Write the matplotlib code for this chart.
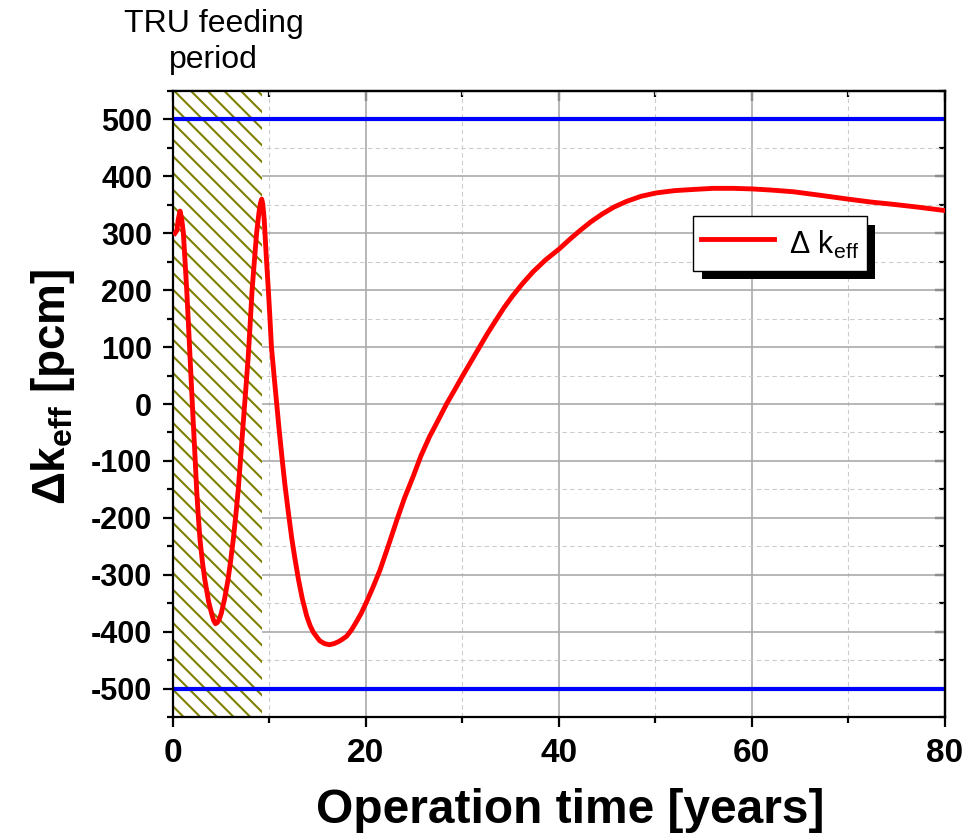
import matplotlib
matplotlib.use("Agg")
import matplotlib.pyplot as plt
import matplotlib.patheffects as pe
from matplotlib.ticker import MultipleLocator

plt.rcParams['font.family'] = ['Liberation Sans', 'DejaVu Sans']
plt.rcParams['mathtext.fontset'] = 'custom'
plt.rcParams['mathtext.rm'] = 'Liberation Sans'
plt.rcParams['mathtext.bf'] = 'Liberation Sans:bold'
plt.rcParams['mathtext.it'] = 'Liberation Sans:italic'
plt.rcParams['hatch.linewidth'] = 1.5
plt.rcParams['axes.unicode_minus'] = False

# data
time_years = [0.2, 0.4, 0.55, 0.73, 0.9, 1.07, 1.25, 1.42, 1.6, 1.76, 1.93, 2.1, 2.28,
              2.45, 2.62, 2.8, 3.05, 3.3, 3.7, 4.0, 4.2, 4.4, 4.6, 4.8, 5.0, 5.35,
              5.7, 5.97, 6.24, 6.5, 6.76, 7.02, 7.28, 7.54, 7.8, 8.0, 8.2, 8.45,
              8.67, 8.9, 9.05, 9.19, 9.3, 9.45, 9.53, 9.7, 9.88, 10.05, 10.2, 10.5,
              10.75, 11.0, 11.3, 11.6, 11.95, 12.3, 12.64, 13.0, 13.4, 13.85, 14.2,
              14.54, 15.2, 15.7, 16.2, 16.7, 17.1, 17.5, 18.0, 18.5, 19.0, 19.5, 20.0,
              20.7, 21.45, 22.3, 23.2, 24.0, 24.9, 25.7, 26.6, 27.5, 28.35, 29.2, 30.0,
              30.9, 31.8, 32.6, 33.5, 34.3, 35.2, 36.2, 37.3, 38.6, 40.0, 41.1, 42.2,
              43.3, 44.5, 45.7, 47.0, 48.5, 50.1, 52.0, 53.9, 56.0, 58.1, 60.0, 62.0,
              64.3, 67.0, 70.0, 72.3, 74.6, 77.2, 80.0]
dk_eff = [300, 305, 325, 339, 325, 301, 250, 201, 140, 84, 25, -33, -92,
          -151, -197, -239, -278, -309, -348, -368, -380, -386, -384, -378, -368, -342,
          -309, -276, -239, -197, -151, -92, -33, 25, 84, 142, 201, 255,
          301, 335, 352, 360, 352, 325, 301, 250, 201, 150, 101, 45,
          0, -45, -95, -142, -190, -235, -272, -308, -342, -372, -389,
          -401, -416, -421, -423, -421, -418, -414, -408, -397, -383, -368, -350,
          -323, -292, -250, -204, -165, -127, -91, -57, -28, 0, 25, 49,
          75, 101, 124, 148, 169, 190, 211, 232, 253, 272, 289, 305,
          320, 334, 346, 356, 365, 371, 375, 377, 379, 379, 378, 376,
          373, 367, 360, 355, 351, 346, 340]
limits = [500, -500]
feeding_end = 9.2

fig = plt.figure(figsize=(9.72, 8.39), dpi=100)
ax = fig.add_axes([0.178, 0.1454, 0.794, 0.7461])

ax.set_xlim(0, 80)
ax.set_ylim(-550, 550)
ax.set_axisbelow(True)

# TRU feeding period hatch
ax.axvspan(0, feeding_end, facecolor='white', edgecolor='#808000', linewidth=0,
           hatch='\\\\', zorder=1)

for lim in limits:
    ax.axhline(lim, color='#0000ff', linewidth=3, zorder=2)

ax.plot(time_years, dk_eff, color='#ff0000', linewidth=3.5, label='Δ k$_{\\mathrm{eff}}$',
        zorder=3, solid_joinstyle='round')

ax.xaxis.set_major_locator(MultipleLocator(20))
ax.xaxis.set_minor_locator(MultipleLocator(10))
ax.yaxis.set_major_locator(MultipleLocator(100))
ax.yaxis.set_minor_locator(MultipleLocator(50))

ax.grid(which='major', color='#aaaaaa', linewidth=1.2, linestyle='-')
ax.grid(which='minor', color='#cccccc', linewidth=0.8, linestyle=(0, (4, 3)))

for s in ax.spines.values():
    s.set_linewidth(1.6)

ax.tick_params(which='major', direction='out', length=7, width=1.6, pad=8)
ax.tick_params(which='minor', direction='out', length=4, width=1.6)
ax.tick_params(axis='x', labelsize=24)
ax.tick_params(axis='y', labelsize=22)
for lab in ax.get_xticklabels() + ax.get_yticklabels():
    lab.set_fontweight('bold')

# inward ticks on the top and right
top = ax.secondary_xaxis('top')
top.xaxis.set_major_locator(MultipleLocator(20))
top.xaxis.set_minor_locator(MultipleLocator(10))
top.tick_params(which='both', direction='in', width=1.6, labeltop=False)
top.tick_params(which='major', length=7)
top.tick_params(which='minor', length=4)
right = ax.secondary_yaxis('right')
right.yaxis.set_major_locator(MultipleLocator(100))
right.yaxis.set_minor_locator(MultipleLocator(50))
right.tick_params(which='both', direction='in', width=1.6, labelright=False)
right.tick_params(which='major', length=7)
right.tick_params(which='minor', length=4)
top.spines['top'].set_linewidth(1.6)
right.spines['right'].set_linewidth(1.6)

ax.set_xlabel('Operation time [years]', fontsize=34.5, fontweight='bold', labelpad=14)
ax.xaxis.label.set_x(0.515)
ax.set_ylabel('Δk$_{\\mathbf{eff}}$ [pcm]', fontsize=33, fontweight='bold', labelpad=10)
ax.yaxis.label.set_y(0.527)

leg = ax.legend(loc='upper left', bbox_to_anchor=(0.674, 0.8), borderaxespad=0,
                fancybox=False, edgecolor='black', fontsize=22, handlelength=2.4,
                handleheight=1.6, handletextpad=0.5, borderpad=0.25, framealpha=1)
leg.get_frame().set_linewidth(1.0)
leg.get_frame().set_path_effects([pe.SimplePatchShadow(offset=(6, -6), shadow_rgbFace='black',
                                                       alpha=1.0), pe.Normal()])
leg.set_zorder(5)

fig.text(0.22, 1 - 42 / 839, 'TRU feeding\nperiod', ha='center', va='center',
         fontsize=23, linespacing=1.3)

fig.savefig('out.png', dpi=100)
